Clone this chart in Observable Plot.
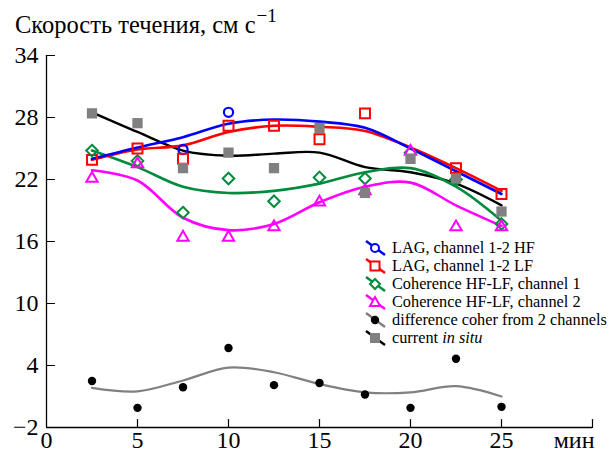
<!DOCTYPE html>
<html>
<head>
<meta charset="utf-8">
<script src="https://cdn.jsdelivr.net/npm/d3@7"></script>
<script src="https://cdn.jsdelivr.net/npm/@observablehq/plot@0.6"></script>
<style>
  body { margin: 0; background: #fff; }
  #wrap { position: relative; width: 609px; height: 456px; font-family: 'Liberation Serif', 'Times New Roman', Times, 'DejaVu Serif', serif; }
  #title { position: absolute; left: 15px; top: 11px; font-size: 24.5px; line-height: 1.107; color: #000; white-space: nowrap; }
  #title sup { font-size: 19px; position: relative; top: -2px; vertical-align: super; line-height: 0; margin-left: 1px; }
  #legend { position: absolute; left: 364px; top: 239px; font-size: 16.3px; color: #000; }
  .row { display: flex; align-items: center; height: 18px; white-space: nowrap; }
  .row svg { margin-right: 4px; }
  #chart svg text { font-family: 'Liberation Serif', 'Times New Roman', Times, 'DejaVu Serif', serif !important; font-size: 24px !important; }
</style>
</head>
<body>
<div id="wrap">
  <div id="chart"></div>
  <div id="title">Скорость течения, см с<sup>−1</sup></div>
  <div id="legend"></div>
</div>
<script>
// ---- data ----
const times = [2.5, 5, 7.5, 10, 12.5, 15, 17.5, 20, 22.5, 25];

// measured points
const lagHFTimes = [7.5, 10];
const lagHFPoints = [24.9, 28.5];
const lagLFTimes = [2.5, 5, 7.5, 10, 12.5, 15, 17.5, 22.5, 25];
const lagLFPoints = [23.9, 25.0, 24.0, 27.2, 27.2, 25.9, 28.4, 23.1, 20.6];
const coh1Points = [24.8, 23.8, 18.8, 22.1, 19.9, 22.2, 22.1, 24.6, 22.0, 17.7];
const coh2Points = [22.1, 23.5, 16.4, 16.4, 17.4, 19.8, 20.9, 24.7, 17.4, 17.4];
const diffPoints = [2.5, -0.1, 1.9, 5.7, 2.1, 2.3, 1.2, -0.1, 4.65, 0.0];
const inSituPoints = [28.4, 27.45, 23.1, 24.6, 23.1, 27.0, 20.7, 24.0, 22.1, 18.9];

// smoothed fit curves
const lagHFFit = [24.0, 25.1, 26.1, 27.4, 27.8, 27.6, 27.0, 25.0, 22.8, 20.6];
const lagLFFit = [23.9, 24.9, 25.3, 26.6, 27.2, 27.1, 26.7, 25.1, 23.1, 20.9];
const coh1Fit = [24.8, 23.2, 21.3, 20.7, 20.9, 21.6, 22.7, 23.1, 21.3, 18.0];
const coh2Fit = [22.9, 21.9, 18.3, 17.1, 17.7, 19.8, 21.3, 21.7, 19.5, 17.5];
const diffFit = [1.84, 1.5, 2.55, 3.8, 3.35, 2.2, 1.4, 1.4, 2.0, 1.0];
const inSituFit = [28.5, 26.6, 24.8, 24.3, 24.5, 24.6, 23.2, 22.7, 21.6, 19.5];

const yTicks = [-2, 4, 10, 16, 22, 28, 34];
const xTicks = [0, 5, 10, 15, 20, 25];
const xTickMarks = [5, 10, 15, 20, 25, 30];
const xUnit = "мин";

const legendLabels = [
  "LAG, channel 1-2 HF",
  "LAG, channel 1-2 LF",
  "Coherence HF-LF, channel 1",
  "Coherence HF-LF, channel 2",
  "difference coher from 2 channels",
  "current <i>in situ</i>"
];

// ---- styles ----
const BLUE = "#0000ff", RED = "#ff0000", GREEN = "#008c3c", MAG = "#ff00ff", GRAY = "#808080";
const SERIF = "'Liberation Serif', 'Times New Roman', Times, 'DejaVu Serif', serif";

const pairs = (xsArr, ysArr) => xsArr.map((x, i) => ({x, y: ysArr[i]}));

const tickShape = {draw(ctx, l) { ctx.moveTo(0, 0); ctx.lineTo(0, -l); }};

const curveOpts = (color, w) => ({x: "x", y: "y", stroke: color, strokeWidth: w, curve: "catmull-rom"});

const chart = Plot.plot({
  width: 609,
  height: 456,
  marginTop: 55,
  marginBottom: 29,
  marginLeft: 46,
  marginRight: 17,
  style: {fontFamily: SERIF, fontSize: "24px", color: "#000", background: "#fff"},
  x: {domain: [0, 30]},
  y: {domain: [-2, 34]},
  marks: [
    // axes
    Plot.axisY({ticks: yTicks, tickSize: 0, tickPadding: 8, label: null, fontSize: 24, tickFormat: d => d < 0 ? "−" + (-d) : String(d)}),
    Plot.axisX({ticks: xTicks, tickSize: 0, tickPadding: 3, label: null, fontSize: 24}),
    Plot.ruleX([0], {y1: -2, y2: 34, stroke: "#000", strokeWidth: 1.3}),
    Plot.ruleY([-2], {x1: 0, x2: 30, stroke: "#000", strokeWidth: 1.3}),
    Plot.vector(yTicks.slice(1), {x: 0, y: d => d, rotate: 90, length: 8, anchor: "start", shape: tickShape, stroke: "#000", strokeWidth: 1.2}),
    Plot.vector(xTickMarks, {x: d => d, y: -2, rotate: 0, length: 8, anchor: "start", shape: tickShape, stroke: "#000", strokeWidth: 1.2}),
    Plot.text([xUnit], {frameAnchor: "bottom-right", text: d => d, textAnchor: "end", lineAnchor: "top", dx: 2, dy: 3, fontSize: 24}),
    // fit curves
    Plot.line(pairs(times, diffFit), curveOpts(GRAY, 2.2)),
    Plot.line(pairs(times, inSituFit), curveOpts("#000", 2.4)),
    Plot.line(pairs(times, coh2Fit), curveOpts(MAG, 2.6)),
    Plot.line(pairs(times, coh1Fit), curveOpts(GREEN, 2.6)),
    Plot.line(pairs(times, lagLFFit), curveOpts(RED, 2.6)),
    Plot.line(pairs(times, lagHFFit), curveOpts(BLUE, 2.6)),
    // points
    Plot.dot(pairs(lagHFTimes, lagHFPoints), {x: "x", y: "y", symbol: "circle", r: 4.6, stroke: BLUE, strokeWidth: 2.2, fill: "none"}),
    Plot.dot(pairs(lagLFTimes, lagLFPoints), {x: "x", y: "y", symbol: "square", r: 5.6, stroke: RED, strokeWidth: 2, fill: "none"}),
    Plot.dot(pairs(times, coh1Points), {x: "x", y: "y", symbol: "diamond2", r: 5.2, stroke: GREEN, strokeWidth: 2, fill: "none"}),
    Plot.dot(pairs(times, coh2Points), {x: "x", y: "y", symbol: "triangle2", r: 5.4, stroke: MAG, strokeWidth: 2, fill: "none"}),
    Plot.dot(pairs(times, inSituPoints), {x: "x", y: "y", symbol: "square", r: 5.8, fill: GRAY, stroke: "none"}),
    Plot.dot(pairs(times, diffPoints), {x: "x", y: "y", symbol: "circle", r: 4.2, fill: "#000", stroke: "none"})
  ]
});
document.getElementById("chart").appendChild(chart);

// ---- legend ----
const legendSymbols = [
  {line: BLUE, mk: `<circle cx="11" cy="9" r="4" fill="#fff" stroke="${BLUE}" stroke-width="2"/>`},
  {line: RED, mk: `<rect x="6.5" y="4.5" width="9" height="9" fill="#fff" stroke="${RED}" stroke-width="2"/>`},
  {line: GREEN, mk: `<path d="M11,4 L16,9 L11,14 L6,9 Z" fill="#fff" stroke="${GREEN}" stroke-width="2"/>`},
  {line: MAG, mk: `<path d="M11,4 L16,13 L6,13 Z" fill="#fff" stroke="${MAG}" stroke-width="2"/>`},
  {line: GRAY, mk: `<circle cx="11" cy="9" r="4.2" fill="#000"/>`},
  {line: "#000", mk: `<rect x="6" y="4" width="10" height="10" fill="${GRAY}"/>`}
];
const legend = document.getElementById("legend");
legendLabels.forEach((lab, i) => {
  const s = legendSymbols[i];
  const row = document.createElement("div");
  row.className = "row";
  row.innerHTML = `<svg width="24" height="18" viewBox="0 0 24 18"><line x1="2" y1="2" x2="21" y2="16" stroke="${s.line}" stroke-width="2.4"/>${s.mk}</svg><span>${lab}</span>`;
  legend.appendChild(row);
});
</script>
</body>
</html>
